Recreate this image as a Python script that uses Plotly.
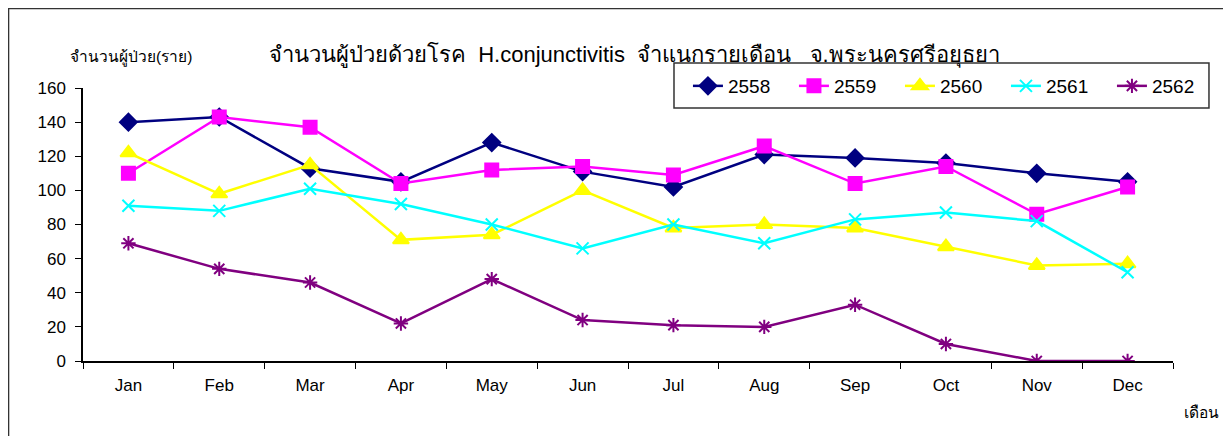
import plotly.graph_objects as go

months = ["Jan", "Feb", "Mar", "Apr", "May", "Jun",
          "Jul", "Aug", "Sep", "Oct", "Nov", "Dec"]

y2558 = [140, 143, 113, 105, 128, 111, 102, 121, 119, 116, 110, 105]
y2559 = [110, 143, 137, 104, 112, 114, 109, 126, 104, 114, 86, 102]
y2560 = [122, 98, 115, 71, 74, 100, 78, 80, 78, 67, 56, 57]
y2561 = [91, 88, 101, 92, 80, 66, 80, 69, 83, 87, 82, 52]
y2562 = [69, 54, 46, 22, 48, 24, 21, 20, 33, 10, 0, 0]

series = [
    ("2558", y2558, "#000080", "diamond", 13),
    ("2559", y2559, "#FF00FF", "square", 13),
    ("2560", y2560, "#FFFF00", "triangle-up", 14),
    ("2561", y2561, "#00FFFF", "x-thin-open", 12),
    ("2562", y2562, "#800080", "asterisk-open", 12),
]

fig = go.Figure()
for name, vals, col, sym, sz in series:
    fig.add_trace(go.Scatter(
        x=months, y=vals, name=name, mode="lines+markers",
        line=dict(color=col, width=2.5),
        marker=dict(symbol=sym, size=sz, color=col,
                    line=dict(color=col, width=2)),
    ))

# page has an 8px body margin, so the figure is sized to fit 1231x436
fig.update_layout(
    width=1222, height=428,
    paper_bgcolor="white", plot_bgcolor="white",
    font=dict(family="Liberation Sans, Arial", size=17, color="black"),
    margin=dict(l=75, r=57, t=80, b=75, autoexpand=False),
    showlegend=True,
    legend=dict(orientation="h", x=0.555, y=1.0073, xanchor="left", yanchor="middle",
                borderwidth=0, bgcolor="rgba(0,0,0,0)",
                font=dict(size=19), entrywidth=61, entrywidthmode="pixels"),
    annotations=[
        dict(text="จำนวนผู้ป่วยด้วยโรค  H.conjunctivitis  จำแนกรายเดือน   จ.พระนครศรีอยุธยา",
             xref="paper", yref="paper", x=0.506, y=1.121, xanchor="center", yanchor="middle",
             showarrow=False, font=dict(size=22)),
        dict(text="จำนวนผู้ป่วย(ราย)", xref="paper", yref="paper", x=-0.0138, y=1.11,
             xanchor="left", yanchor="middle", showarrow=False, font=dict(size=15.5)),
        dict(text="เดือน", xref="paper", yref="paper", x=1.008, y=-0.19,
             xanchor="left", yanchor="middle", showarrow=False, font=dict(size=15.5)),
    ],
    shapes=[
        dict(type="path", xref="paper", yref="paper",
             path="M -0.0683,-0.4 L -0.0683,1.2912 L 1.0505,1.2912 L 1.0505,-0.4",
             line=dict(color="#333333", width=1.5)),
        # legend frame
        dict(type="rect", xref="paper", yref="paper", x0=0.5422, x1=1.0330,
             y0=0.9267, y1=1.0916, fillcolor="white", layer="below",
             line=dict(color="#333333", width=1.5)),
    ],
)
fig.update_xaxes(showline=True, linecolor="black", linewidth=1.5, ticks="outside",
                 tickson="boundaries", ticklen=6, tickcolor="black",
                 showgrid=False, range=[-0.5, 11.5], ticklabelstandoff=8)
fig.update_yaxes(showline=True, linecolor="black", linewidth=1.5, ticks="outside",
                 ticklen=6, tickcolor="black", showgrid=False, range=[0, 160],
                 dtick=20, zeroline=False, ticklabelstandoff=6)

fig.write_html("out.html")
